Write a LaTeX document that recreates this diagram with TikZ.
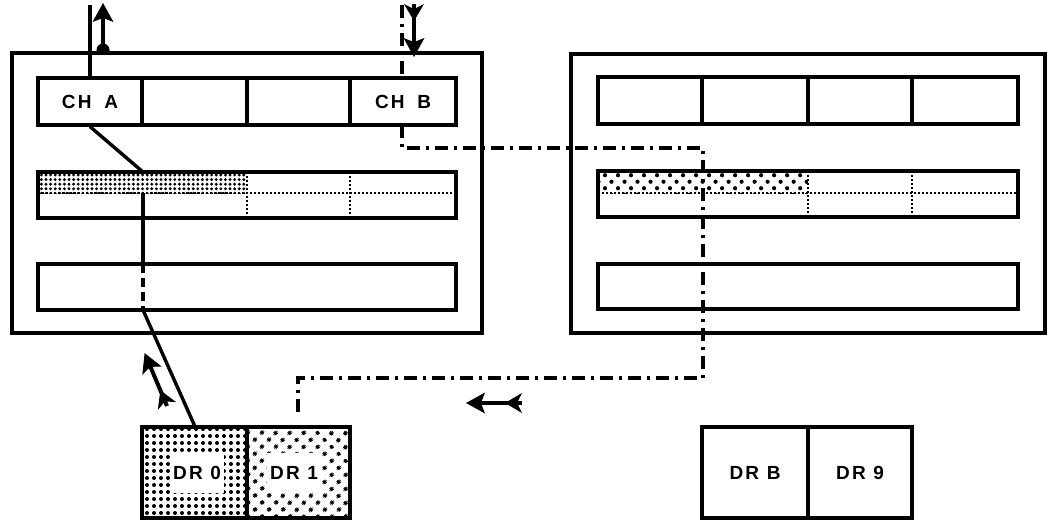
\documentclass[tikz,border=0pt]{standalone}
\usepackage{fontspec}
\newfontfamily\lblfont[LetterSpace=12]{Liberation Sans}
\usetikzlibrary{patterns.meta}
\begin{document}
\begin{tikzpicture}[x=1pt,y=-1pt,
  box/.style={draw,line width=3.2pt,inner sep=0pt,rectangle},
  lab/.style={font=\lblfont\bfseries\fontsize{19}{19}\selectfont,inner sep=1pt},
  conn/.style={line width=3.4pt},
  dashseg/.style={line width=3.4pt,dash pattern=on 9pt off 5pt},
  dashdot/.style={line width=3.2pt,dash pattern=on 13pt off 6pt on 3pt off 6pt},
  dotline/.style={line width=2.6pt,dash pattern=on 1.8pt off 2.2pt},
  dense/.style={pattern={Dots[distance=4.6pt,radius=1.6pt]}},
  densebig/.style={pattern={Dots[distance=7pt,radius=2pt]}},
  coarse/.style={pattern={Dots[distance=9.2pt,angle=45,radius=2.1pt]}},
  coarsebig/.style={pattern={Dots[distance=10.5pt,angle=45,radius=2.4pt]}},
  shaft/.style={line width=4pt,shorten >=10pt},
  headtip/.pic={\fill[line join=round] (1,0) -- (-18,10.5) -- (-14,0) -- (-18,-10.5) -- cycle;},
  fletchtip/.pic={\fill[line join=round] (17,0) -- (0,10) -- (5,0) -- (0,-10) -- cycle;},
  nubtip/.pic={\fill (0,-6.5) -- (4,-6.5) arc[start angle=-90,end angle=90,radius=6.5] -- (0,6.5) -- cycle;}
]
\fill[white] (0,0) rectangle (1050,520);
\useasboundingbox (0,0) rectangle (1050,520);

% ---------- left cabinet ----------
\node[box,minimum width=470pt,minimum height=280pt] (L) at (247,193) {};
\node[box,minimum width=104pt,minimum height=47pt,lab] (cha) at (90,101.5) {CH\hspace{5pt} A};
\node[box,minimum width=105pt,minimum height=47pt] (lc2) at (194.5,101.5) {};
\node[box,minimum width=103pt,minimum height=47pt] (lc3) at (298.5,101.5) {};
\node[box,minimum width=106pt,minimum height=47pt,lab] (chb) at (403,101.5) {CH\hspace{5pt} B};

\fill[dense] (38,172) rectangle (247,193);
\node[box,minimum width=418pt,minimum height=46pt] (lmid) at (247,195) {};
\draw[dotline] (38,193) -- (456,193);
\draw[dotline] (247,172) -- (247,218);
\draw[dotline] (350,172) -- (350,218);

\node[box,minimum width=418pt,minimum height=46pt] (lbot) at (247,287) {};

% ---------- right cabinet ----------
\node[box,minimum width=474pt,minimum height=279pt] (R) at (808,193.5) {};
\node[box,minimum width=104pt,minimum height=47pt] (rc1) at (650,100.5) {};
\node[box,minimum width=106pt,minimum height=47pt] (rc2) at (755,100.5) {};
\node[box,minimum width=104pt,minimum height=47pt] (rc3) at (860,100.5) {};
\node[box,minimum width=106pt,minimum height=47pt] (rc4) at (965,100.5) {};

\fill[coarse] (598,171) rectangle (808,193);
\node[box,minimum width=420pt,minimum height=46pt] (rmid) at (808,194) {};
\draw[dotline] (598,193) -- (1018,193);
\draw[dotline] (808,171) -- (808,217);
\draw[dotline] (912,171) -- (912,217);

\node[box,minimum width=420pt,minimum height=45pt] (rbot) at (808,286.5) {};

% ---------- drives ----------
\node[box,densebig,minimum width=105pt,minimum height=91pt] (dr0) at (194.5,472.5) {};
\node[box,coarsebig,minimum width=103pt,minimum height=91pt] (dr1) at (298.5,472.5) {};
\node[lab,fill=white,inner xsep=3pt,inner ysep=13pt] (t0) at (197,473) {DR 0};
\node[lab,fill=white,inner xsep=3pt,inner ysep=13pt] (t1) at (294,473) {DR 1};

\node[box,minimum width=106pt,minimum height=91pt,lab] (dr8) at (755,472.5) {DR B};
\node[box,minimum width=104pt,minimum height=91pt,lab] (dr9) at (860,472.5) {DR 9};

% ---------- coordinates ----------
\coordinate (outA) at (90,5);
\coordinate (jA) at (143,172);
\coordinate (jB) at (143,193);
\coordinate (jC) at (143,264);
\coordinate (jD) at (143,310);
\coordinate (inB) at (402,5);
\coordinate (k2) at (703,148);
\coordinate (k4) at (298,378);

% ---------- connectors ----------
\draw[conn] (cha.north) -- (outA);
\draw[conn] (cha.south) -- (jA);
\draw[conn] (jB) -- (jC);
\draw[dashseg] (jC) -- (jD);
\draw[conn] (jD) -- (dr0.north);

\draw[dashdot] (inB) -- (402,78);
\draw[dashdot,shorten >=10pt] (402,125) |- (k2) |- (k4) -- (k4 |- dr1.north);

% ---------- direction arrows ----------
% up arrow beside CH A (round tail)
\coordinate (a1s) at (103,54);
\coordinate (a1e) at (103,4);
\draw[shaft] (a1s) -- (a1e);
\pic[rotate=90] at (a1e) {headtip};
\pic[rotate=90] at (a1s) {nubtip};
% down arrow beside CH B
\coordinate (a2s) at (414,4);
\coordinate (a2e) at (414,56);
\draw[shaft] (a2s) -- (a2e);
\pic[rotate=270] at (a2e) {headtip};
\pic[rotate=270] at (a2s) {fletchtip};
% diagonal arrow beside drive link
\coordinate (a3s) at (167,406);
\coordinate (a3e) at (145,354);
\draw[shaft] (a3s) -- (a3e);
\pic[rotate=112.9] at (a3e) {headtip};
\pic[rotate=112.9] at (a3s) {fletchtip};
% left arrow
\coordinate (a4s) at (522,403);
\coordinate (a4e) at (467,403);
\draw[shaft] (a4s) -- (a4e);
\pic[rotate=180] at (a4e) {headtip};
\pic[rotate=180] at (a4s) {fletchtip};
\end{tikzpicture}
\end{document}
